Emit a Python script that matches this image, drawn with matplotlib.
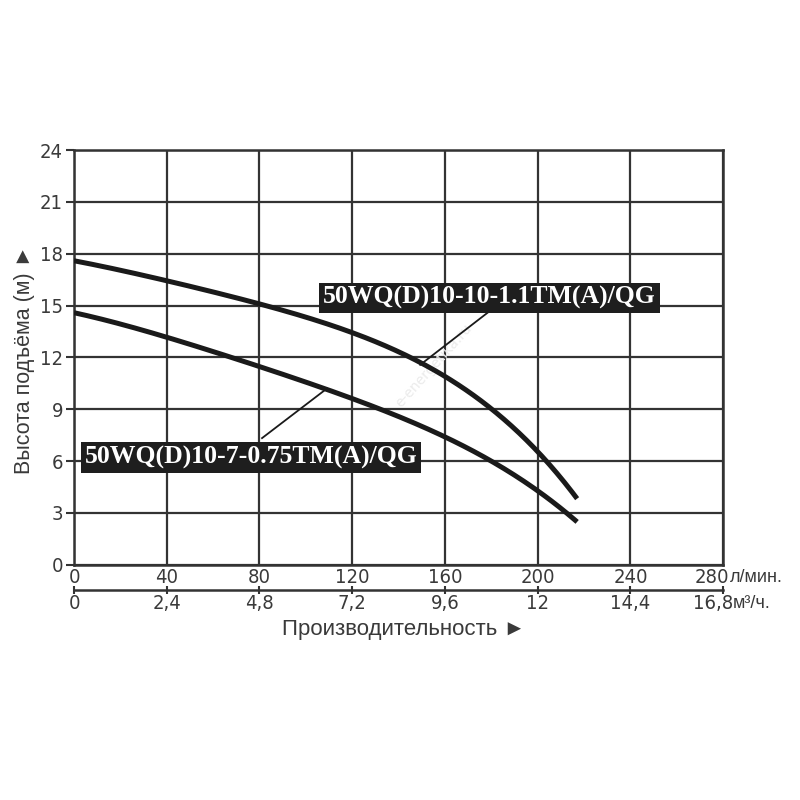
import matplotlib
matplotlib.use("Agg")
import matplotlib.pyplot as plt
import matplotlib.transforms as mtransforms
import numpy as np

# Data
flow_lpm = [0, 40, 80, 120, 160, 180, 200, 217]
head_upper = [17.6, 16.4, 15.15, 13.4, 10.9, 9.0, 6.6, 3.8]
head_lower = [14.6, 13.1, 11.6, 9.5, 7.4, 6.1, 4.2, 2.5]
label_upper = "50WQ(D)10-10-1.1TM(A)/QG"
label_lower = "50WQ(D)10-7-0.75TM(A)/QG"
x_ticks = [0, 40, 80, 120, 160, 200, 240, 280]
x_ticklabels = ["0", "40", "80", "120", "160", "200", "240", "280"]
x2_ticks = [0, 2.4, 4.8, 7.2, 9.6, 12, 14.4, 16.8]
x2_ticklabels = ["0", "2,4", "4,8", "7,2", "9,6", "12", "14,4", "16,8"]
y_ticks = [0, 3, 6, 9, 12, 15, 18, 21, 24]

TXT = "#3a3a3a"
tickfont = dict(family="DejaVu Sans", stretch="condensed", size=14.5)
serif = ["Liberation Serif", "DejaVu Serif"]
sans = ["Liberation Sans", "DejaVu Sans"]

fig = plt.figure(figsize=(8, 8), dpi=100)
ax = fig.add_axes([0.0925, 0.294, 0.8115, 0.5185])

def smooth(xs, ys, n=200):
    xs = np.asarray(xs, float); ys = np.asarray(ys, float)
    c = np.polyfit(xs, ys, 4)
    xx = np.linspace(xs[0], xs[-1], n)
    return xx, np.polyval(c, xx)

for ys in (head_upper, head_lower):
    xx, yy = smooth(flow_lpm, ys)
    ax.plot(xx, yy, color="#1a1a1a", lw=3.6, solid_capstyle="butt", zorder=3)

ax.set_xlim(0, 280)
ax.set_ylim(0, 24)
ax.set_xticks(x_ticks)
ax.set_xticklabels(x_ticklabels, color=TXT, **tickfont)
ax.set_yticks(y_ticks)
ax.set_yticklabels([str(v) for v in y_ticks], color=TXT, **tickfont)
ax.tick_params(axis="x", length=0, pad=2)
ax.tick_params(axis="y", length=6, width=1.5, color="#333333", pad=2)
ax.grid(True, color="#333333", lw=1.6, zorder=1)
for s in ax.spines.values():
    s.set_color("#333333")
    s.set_linewidth(1.8)

# secondary x axis (m3/h)
sec = ax.secondary_xaxis(-0.06, functions=(lambda x: x * 0.06, lambda x: x / 0.06))
sec.set_xticks(x2_ticks)
sec.set_xticklabels(x2_ticklabels, color=TXT, **tickfont)
sec.tick_params(axis="x", direction="inout", length=6, width=1.5, color="#333333", pad=0)
sec.spines["bottom"].set_color("#333333")
sec.spines["bottom"].set_linewidth(1.8)

# nudge the last labels left to make room for units
fig.canvas.draw()
ax.get_xticklabels()[-1].set_transform(
    ax.get_xticklabels()[-1].get_transform() + mtransforms.ScaledTranslation(-0.11, 0, fig.dpi_scale_trans))
sec.get_xticklabels()[-1].set_transform(
    sec.get_xticklabels()[-1].get_transform() + mtransforms.ScaledTranslation(-0.10, 0, fig.dpi_scale_trans))

# units
fig.text(730 / 800, 1 - 578 / 800, "л/мин.", ha="left", va="center",
         family=sans, fontsize=13, color=TXT)
fig.text(733 / 800, 1 - 604 / 800, "м³/ч.", ha="left", va="center",
         family=sans, fontsize=13, color=TXT)

# axis titles
fig.text(0.031, 0.55, "Высота подъёма (м) ►", rotation=90, ha="center", va="center",
         family=sans, fontsize=15.5, color=TXT)
fig.text(0.505, 1 - 630 / 800, "Производительность ►", ha="center", va="center",
         family=sans, fontsize=16, color=TXT)

# leader lines
ax.plot([149.3, 179], [11.57, 14.65], color="#1a1a1a", lw=1.3, zorder=3)
ax.plot([81.1, 109.1], [7.33, 10.2], color="#1a1a1a", lw=1.3, zorder=3)

# labels
box = dict(boxstyle="square,pad=0.15", facecolor="#1e1e1e", edgecolor="none")
ax.text(179.3, 15.44, label_upper, ha="center", va="center", color="white",
        family=serif, fontweight="bold", fontsize=18.5, bbox=box, zorder=4)
ax.text(76.3, 6.19, label_lower, ha="center", va="center", color="white",
        family=serif, fontweight="bold", fontsize=18.5, bbox=box, zorder=4)

# watermark
ax.text(155, 11.5, "e-energetika.ru", rotation=48, ha="center", va="center",
        color="#ebebeb", fontsize=10, zorder=2)

fig.savefig("out.png", dpi=100, facecolor="white")
